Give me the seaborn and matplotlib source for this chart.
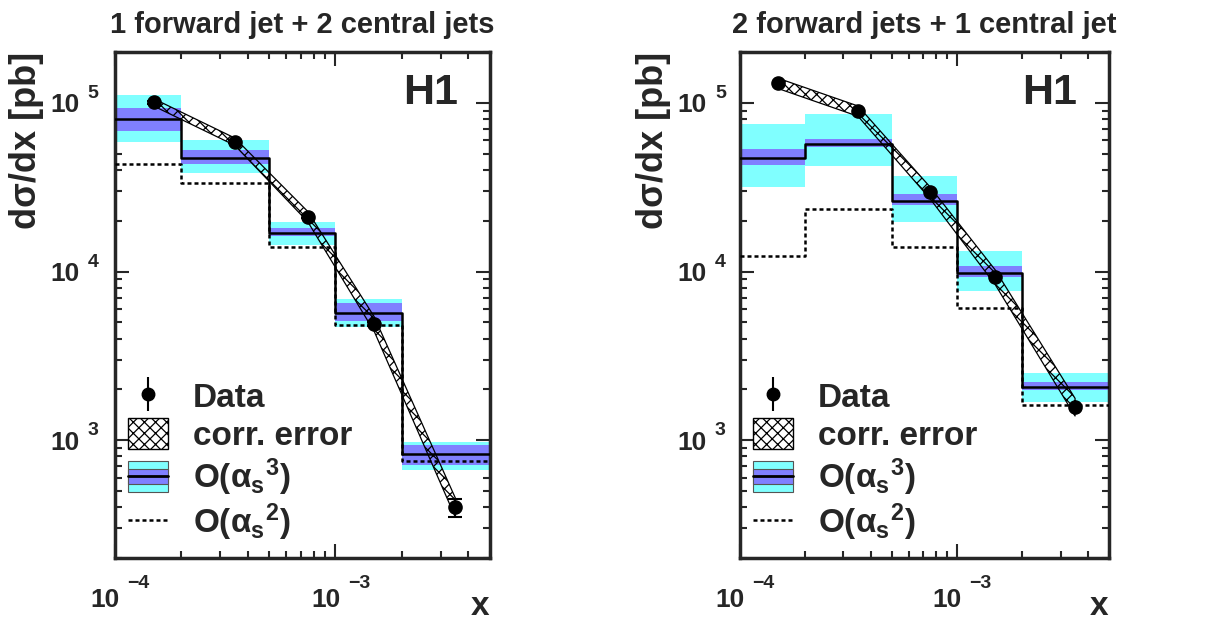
import numpy as np
import matplotlib
matplotlib.use('Agg')
import matplotlib.pyplot as plt
import matplotlib.ticker as ticker
import seaborn as sns
from matplotlib.patches import Patch, Rectangle
from matplotlib.lines import Line2D
from matplotlib.collections import LineCollection
from matplotlib.container import ErrorbarContainer
from matplotlib.legend_handler import HandlerBase

# --- STYLE ---
sns.set_style("ticks")
plt.rcParams['font.family'] = ['Liberation Sans', 'DejaVu Sans']
plt.rcParams['font.weight'] = 'bold'
plt.rcParams['mathtext.fontset'] = 'custom'
plt.rcParams['mathtext.rm'] = 'Liberation Sans:bold'
plt.rcParams['mathtext.bf'] = 'Liberation Sans:bold'
plt.rcParams['mathtext.it'] = 'Liberation Sans:bold'
plt.rcParams['mathtext.default'] = 'bf'
plt.rcParams['hatch.linewidth'] = 0.9

CYAN = '#80ffff'
BLUE = '#8080ff'

# --- DATA ---
edges = [1e-4, 2e-4, 5e-4, 1e-3, 2e-3, 5e-3]
x_data = [1.5e-4, 3.5e-4, 7.5e-4, 1.5e-3, 3.5e-3]

titles = ["1 forward jet + 2 central jets", "2 forward jets + 1 central jet"]

# 1 forward + 2 central
data_l = [1.01e5, 5.9e4, 2.12e4, 4.9e3, 4.0e2]
stat_l = [2.0e3, 1.2e3, 5.0e2, 1.5e2, 50]
corr_l = [0.05, 0.05, 0.07, 0.10, 0.13]
nlo_l = [8.05e4, 4.74e4, 1.69e4, 5.66e3, 8.3e2]
scale_hi_l = [9.34e4, 5.28e4, 1.81e4, 6.49e3, 9.33e2]
scale_lo_l = [6.84e4, 4.37e4, 1.63e4, 5.08e3, 7.13e2]
tot_hi_l = [1.11e5, 6.05e4, 1.97e4, 6.84e3, 9.77e2]
tot_lo_l = [5.83e4, 3.82e4, 1.44e4, 4.68e3, 6.61e2]
lo_l = [4.37e4, 3.34e4, 1.40e4, 4.81e3, 7.5e2]

# 2 forward + 1 central
data_r = [1.31e5, 8.97e4, 2.95e4, 9.3e3, 1.58e3]
stat_r = [2.0e3, 1.5e3, 6.0e2, 2.0e2, 1.5e2]
corr_r = [0.07, 0.07, 0.08, 0.10, 0.12]
nlo_r = [4.74e4, 5.74e4, 2.62e4, 9.87e3, 2.08e3]
scale_hi_r = [5.36e4, 6.14e4, 2.88e4, 1.08e4, 2.22e3]
scale_lo_r = [4.26e4, 5.51e4, 2.48e4, 9.34e3, 1.99e3]
tot_hi_r = [7.5e4, 8.6e4, 3.67e4, 1.33e4, 2.51e3]
tot_lo_r = [3.16e4, 4.2e4, 1.97e4, 7.62e3, 1.69e3]
lo_r = [1.24e4, 2.35e4, 1.40e4, 6.05e3, 1.61e3]

# tick labels: mantissa "10" as tick label, exponent drawn as raised text
x_ticks = [1e-4, 1e-3]
x_exponents = ['\u22124', '\u22123']
y_ticks = [1e3, 1e4, 1e5]
y_exponents = ['3', '4', '5']

legend_labels = ['Data', 'corr. error', r'O($\alpha_{s}{}^{3}$)', r'O($\alpha_{s}{}^{2}$)']

panels = [
    (titles[0], data_l, stat_l, corr_l, nlo_l, scale_hi_l, scale_lo_l, tot_hi_l, tot_lo_l, lo_l),
    (titles[1], data_r, stat_r, corr_r, nlo_r, scale_hi_r, scale_lo_r, tot_hi_r, tot_lo_r, lo_r),
]


class BandHandler(HandlerBase):
    # cyan box, blue middle band, black central line
    def create_artists(self, legend, orig_handle, xdescent, ydescent,
                       width, height, fontsize, trans):
        x0, y0 = -xdescent, -ydescent
        outer = Rectangle((x0, y0), width, height, fc=CYAN, ec='#555555', lw=0.8, transform=trans)
        inner = Rectangle((x0, y0 + 0.25 * height), width, 0.5 * height, fc=BLUE, ec='#555555',
                          lw=0.8, transform=trans)
        mid = Line2D([x0, x0 + width], [y0 + height / 2] * 2, color='black', lw=2, transform=trans)
        return [outer, inner, mid]


fig = plt.figure(figsize=(12.21, 6.22), dpi=100)
axes = [fig.add_axes([0.094, 0.103, 0.307, 0.813]),
        fig.add_axes([0.606, 0.103, 0.302, 0.813])]

for i, (ax, p) in enumerate(zip(axes, panels)):
    title, data, stat, corr, nlo, s_hi, s_lo, t_hi, t_lo, lo = p
    data = np.array(data)
    corr = np.array(corr)

    # theory uncertainty bands
    ax.stairs(t_hi, edges, baseline=t_lo, fill=True, color=CYAN, lw=0, zorder=1)
    ax.stairs(s_hi, edges, baseline=s_lo, fill=True, color=BLUE, lw=0, zorder=2)

    # histograms (steps)
    sns.lineplot(x=edges, y=list(lo) + [lo[-1]], drawstyle='steps-post', color='black',
                 lw=1.8, linestyle=(0, (1.6, 1.2)), ax=ax, zorder=3)
    sns.lineplot(x=edges, y=list(nlo) + [nlo[-1]], drawstyle='steps-post', color='black',
                 lw=1.8, ax=ax, zorder=4)

    # correlated error band
    ax.fill_between(x_data, data * (1 - corr), data * (1 + corr), facecolor='none',
                    edgecolor='black', hatch='xxx', lw=0.9, zorder=5)

    # data points
    ax.errorbar(x_data, data, yerr=stat, fmt='o', color='black', ms=9.5, elinewidth=1.5,
                capsize=5 if i == 0 else 0, capthick=1.5, zorder=6)

    ax.set_xscale('log')
    ax.set_yscale('log')
    ax.set_xlim(1e-4, 5e-3)
    ax.set_ylim(200, 2e5)

    ax.xaxis.set_major_locator(ticker.FixedLocator(x_ticks))
    ax.xaxis.set_major_formatter(ticker.FixedFormatter(['10'] * len(x_ticks)))
    ax.yaxis.set_major_locator(ticker.FixedLocator(y_ticks))
    ax.yaxis.set_major_formatter(ticker.FixedFormatter(['10'] * len(y_ticks)))
    for a in (ax.xaxis, ax.yaxis):
        a.set_minor_locator(ticker.LogLocator(base=10, subs=np.arange(2, 10), numticks=20))
        a.set_minor_formatter(ticker.NullFormatter())

    ax.tick_params(which='both', direction='in', top=True, right=True, width=1.5)
    ax.tick_params(which='major', length=10, labelsize=19)
    ax.tick_params(which='minor', length=5)
    ax.tick_params(axis='x', which='major', pad=22)
    ax.tick_params(axis='y', which='major', pad=25 if i == 0 else 24)
    for lab in ax.get_xticklabels():
        lab.set_transform(lab.get_transform() +
                          matplotlib.transforms.ScaledTranslation(-7 / 72, 0, fig.dpi_scale_trans))

    # exponents
    for t, e in zip(x_ticks, x_exponents):
        ax.annotate(e, xy=(t, 0), xycoords=('data', 'axes fraction'), xytext=(9, -21.5),
                    textcoords='offset points', ha='left', va='baseline', fontsize=14,
                    weight='bold', annotation_clip=False)
    for t, e in zip(y_ticks, y_exponents):
        ax.annotate(e, xy=(0, t), xycoords=('axes fraction', 'data'),
                    xytext=(-19.5 if i == 0 else -18, 3.5),
                    textcoords='offset points', ha='left', va='baseline', fontsize=14,
                    weight='bold', annotation_clip=False)

    for sp in ax.spines.values():
        sp.set_linewidth(2.5)

    ax.set_title(title, fontsize=21, weight='bold', pad=14)
    ax.set_ylabel('dσ/dx [pb]', fontsize=26, weight='bold', loc='top')
    ax.yaxis.label.set_va('center')
    ax.yaxis.set_label_coords(-0.235, 1.0)
    ax.set_xlabel('x', fontsize=24, weight='bold', loc='right')
    ax.xaxis.set_label_coords(1.0, -0.113)
    ax.xaxis.label.set_va('baseline')

    ax.text(0.915, 0.92, 'H1', transform=ax.transAxes, ha='right', va='center',
            fontsize=31, weight='bold')

    # legend
    mk = Line2D([], [], marker='o', color='black', ms=9, ls='none')
    bar = LineCollection([], colors='black', linewidths=1.5)
    h_data = ErrorbarContainer((mk, (), [bar]), has_xerr=False, has_yerr=True)
    h_corr = Patch(facecolor='white', edgecolor='black', hatch='xxx', lw=1)
    h_nlo = Patch(facecolor=CYAN)
    h_lo = Line2D([], [], color='black', lw=1.8, linestyle=(0, (1.6, 1.2)))
    ax.legend([h_data, h_corr, h_nlo, h_lo], legend_labels,
              handler_map={h_nlo: BandHandler()},
              loc='center left', bbox_to_anchor=(0.035, 0.19), frameon=False,
              prop={'size': 24, 'weight': 'bold'}, handlelength=1.2, handleheight=1.05,
              handletextpad=0.75, labelspacing=0.12, borderaxespad=0, borderpad=0)

fig.savefig('out.png', dpi=100)
